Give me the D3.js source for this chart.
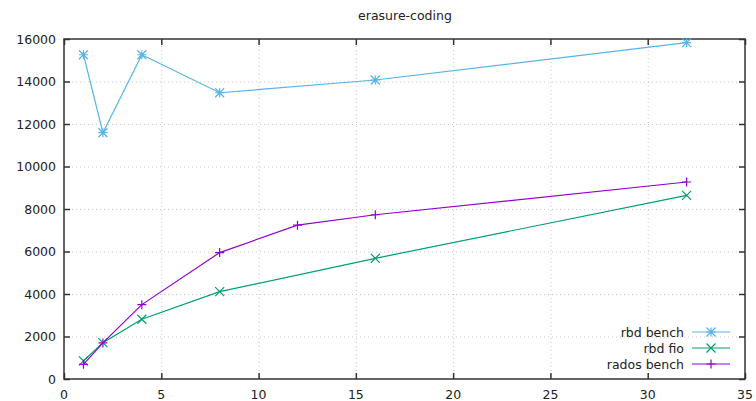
<!DOCTYPE html>
<html>
<head>
<meta charset="utf-8">
<script src="https://cdn.jsdelivr.net/npm/d3@7"></script>
<style>
    body { margin: 0; background: #fff; }
    svg { font-family: "DejaVu Sans", sans-serif; font-size: 12.5px; }
</style>
</head>
<body>
<svg id="chart" width="756" height="401"></svg>
<script>
// erasure-coding benchmark

const threads = [1, 2, 4, 8, 16, 32];
const radosThreads = [1, 2, 4, 8, 12, 16, 32];

const rbdBench = [15260, 11590, 15260, 13470, 14070, 15830];
const rbdFio = [850, 1710, 2810, 4110, 5680, 8640];
const radosBench = [690, 1700, 3500, 5950, 7240, 7730, 9270];

const xTicks = [0, 5, 10, 15, 20, 25, 30, 35];
const yTicks = [0, 2000, 4000, 6000, 8000, 10000, 12000, 14000, 16000];

const series = [
    {name: "rbd bench", xs: threads, ys: rbdBench, color: "#56b4e9", point: "star"},
    {name: "rbd fio", xs: threads, ys: rbdFio, color: "#009e73", point: "cross"},
    {name: "rados bench", xs: radosThreads, ys: radosBench, color: "#9400d3", point: "plus"}
];

const margin = {top: 39, right: 11, bottom: 22, left: 64};
const width = 756, height = 401;

const svg = d3.select("#chart");

const xScale = d3.scaleLinear()
    .domain([0, 35])
    .range([margin.left, width - margin.right]);

const yScale = d3.scaleLinear()
    .domain([0, 16000])
    .range([height - margin.bottom, margin.top]);

// grid
const grid = svg.append("g").attr("class", "grid");
grid.selectAll(".gx")
    .data(xTicks.slice(1, -1))
    .enter().append("line")
    .attr("x1", d => xScale(d) + 0.5).attr("x2", d => xScale(d) + 0.5)
    .attr("y1", yScale(0)).attr("y2", yScale(16000))
    .attr("stroke", "#c8c8c8").attr("stroke-dasharray", "1,3");
grid.selectAll(".gy")
    .data(yTicks.slice(1, -1))
    .enter().append("line")
    .attr("x1", xScale(0)).attr("x2", xScale(35))
    .attr("y1", d => yScale(d) + 0.5).attr("y2", d => yScale(d) + 0.5)
    .attr("stroke", "#c8c8c8").attr("stroke-dasharray", "1,3");

// axes, ticks pointing inward, mirrored
const tickLen = 6;
svg.append("g")
    .attr("transform", "translate(0," + yScale(0) + ")")
    .call(d3.axisTop(xScale).tickValues(xTicks).tickSize(tickLen).tickFormat(""))
    .call(g => g.select(".domain").remove());
svg.append("g")
    .attr("transform", "translate(0," + yScale(16000) + ")")
    .call(d3.axisBottom(xScale).tickValues(xTicks).tickSize(tickLen).tickFormat(""))
    .call(g => g.select(".domain").remove());
svg.append("g")
    .attr("transform", "translate(" + xScale(0) + ",0)")
    .call(d3.axisRight(yScale).tickValues(yTicks).tickSize(tickLen).tickFormat(""))
    .call(g => g.select(".domain").remove());
svg.append("g")
    .attr("transform", "translate(" + xScale(35) + ",0)")
    .call(d3.axisLeft(yScale).tickValues(yTicks).tickSize(tickLen).tickFormat(""))
    .call(g => g.select(".domain").remove());
svg.selectAll(".tick line").attr("stroke", "#333").attr("stroke-width", 1.5);

// tick labels
svg.append("g").selectAll("text")
    .data(xTicks)
    .enter().append("text")
    .attr("x", d => xScale(d))
    .attr("y", yScale(0) + 20)
    .attr("text-anchor", "middle")
    .attr("fill", "#222")
    .text(d => d);
svg.append("g").selectAll("text")
    .data(yTicks)
    .enter().append("text")
    .attr("x", xScale(0) - 8)
    .attr("y", d => yScale(d) + 4.5)
    .attr("text-anchor", "end")
    .attr("fill", "#222")
    .text(d => d);

// frame
svg.append("rect")
    .attr("x", xScale(0)).attr("y", yScale(16000))
    .attr("width", xScale(35) - xScale(0))
    .attr("height", yScale(0) - yScale(16000))
    .attr("fill", "none").attr("stroke", "#333").attr("stroke-width", 1.5);

// title
svg.append("text")
    .attr("x", 405).attr("y", 20)
    .attr("text-anchor", "middle")
    .attr("fill", "#222")
    .text("erasure-coding");

function drawPoint(g, type, x, y, color) {
    const s = 4.5;
    let path = "";
    if (type === "plus" || type === "star") {
        path += `M${x - s},${y}H${x + s}M${x},${y - s}V${y + s}`;
    }
    if (type === "cross" || type === "star") {
        path += `M${x - s},${y - s}L${x + s},${y + s}M${x - s},${y + s}L${x + s},${y - s}`;
    }
    g.append("path").attr("d", path).attr("stroke", color).attr("stroke-width", 1.2).attr("fill", "none");
}

const line = d3.line().x(d => xScale(d[0])).y(d => yScale(d[1]));

series.forEach(s => {
    const pts = s.xs.map((x, i) => [x, s.ys[i]]);
    const g = svg.append("g");
    g.append("path")
        .datum(pts)
        .attr("d", line)
        .attr("fill", "none")
        .attr("stroke", s.color)
        .attr("stroke-width", 1.2);
    pts.forEach(p => drawPoint(g, s.point, xScale(p[0]), yScale(p[1]), s.color));
});

// legend
const legend = svg.append("g");
series.forEach((s, i) => {
    const y = 332 + i * 16;
    legend.append("text")
        .attr("x", 684).attr("y", y + 4.5)
        .attr("text-anchor", "end")
        .attr("fill", "#222")
        .text(s.name);
    legend.append("line")
        .attr("x1", 692).attr("x2", 730)
        .attr("y1", y).attr("y2", y)
        .attr("stroke", s.color).attr("stroke-width", 1.2);
    drawPoint(legend, s.point, 711, y, s.color);
});
</script>
</body>
</html>
